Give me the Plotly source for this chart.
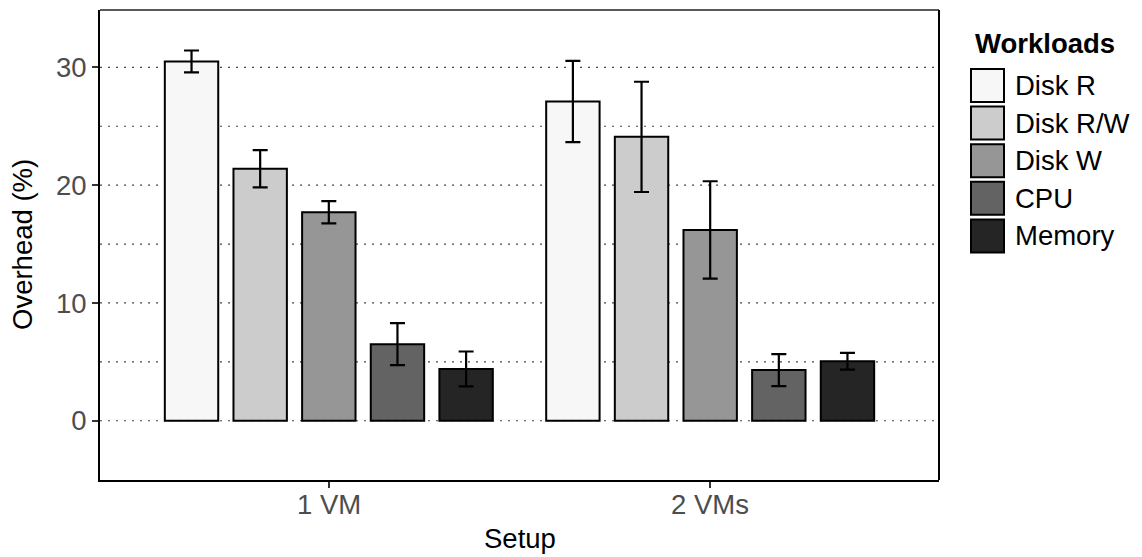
import plotly.graph_objects as go

setups = ["1 VM", "2 VMs"]
workloads = ["Disk R", "Disk R/W", "Disk W", "CPU", "Memory"]
overhead = {
    "Disk R":   [30.5, 27.1],
    "Disk R/W": [21.4, 24.1],
    "Disk W":   [17.7, 16.2],
    "CPU":      [6.5, 4.3],
    "Memory":   [4.4, 5.05],
}
error = {
    "Disk R":   [0.93, 3.45],
    "Disk R/W": [1.58, 4.68],
    "Disk W":   [0.95, 4.13],
    "CPU":      [1.78, 1.36],
    "Memory":   [1.48, 0.71],
}
colors = ["#f7f7f7", "#cccccc", "#969696", "#636363", "#252525"]
setup_pos = [1, 2]

fig = go.Figure()
for w, c in zip(workloads, colors):
    fig.add_trace(go.Bar(
        x=setup_pos, y=overhead[w], name=w,
        marker=dict(color=c, line=dict(color="black", width=2)),
        error_y=dict(type="data", array=error[w], visible=True,
                     color="black", thickness=2.2, width=7.5),
        showlegend=False,
    ))

font = "Liberation Sans, Arial, sans-serif"
FS = 27.5
fig.update_layout(
    width=1142, height=557,
    margin=dict(l=100, r=203, t=10, b=77),
    paper_bgcolor="white", plot_bgcolor="white",
    barmode="group", bargap=0.1, bargroupgap=0.222,
    font=dict(family=font, size=FS, color="black"),
    xaxis=dict(
        range=[0.4, 2.6], tickvals=setup_pos, showticklabels=False,
        showgrid=False, zeroline=False, automargin=False,
        showline=True, linecolor="black", linewidth=2,
        ticks="outside", ticklen=6, tickwidth=2, tickcolor="#333333",
    ),
    yaxis=dict(
        range=[-5.03, 34.87], tickvals=[0, 10, 20, 30],
        showgrid=False, zeroline=False, automargin=False,
        showline=True, linecolor="black", linewidth=2,
        ticks="outside", ticklen=6, tickwidth=2, tickcolor="#333333",
        tickfont=dict(size=FS, color="#4d4d4d", family=font),
    ),
)

pl, pr, pt, pb = 100, 939, 10, 480
def px2x(px):
    return (px - pl) / (pr - pl)
def py2y(py):
    return (pb - py) / (pb - pt)

# x tick labels (placed at the category positions on the x scale)
for xv, lab in zip(setup_pos, setups):
    fig.add_annotation(xref="x", yref="paper", x=xv, y=py2y(504),
                       xanchor="center", yanchor="middle", showarrow=False,
                       text=lab, font=dict(size=FS, color="#4d4d4d", family=font))

# axis titles
fig.add_annotation(xref="paper", yref="paper", x=0.5, y=py2y(538),
                   xanchor="center", yanchor="middle", showarrow=False,
                   text="Setup", font=dict(size=FS, color="black", family=font))
fig.add_annotation(xref="paper", yref="paper", x=px2x(22), y=0.5, textangle=-90,
                   xanchor="center", yanchor="middle", showarrow=False,
                   text="Overhead (%)", font=dict(size=FS, color="black", family=font))

# dotted horizontal grid lines (major and minor)
for v in [0, 5, 10, 15, 20, 25, 30]:
    fig.add_shape(type="line", xref="paper", yref="y", x0=0, x1=1, y0=v, y1=v,
                  line=dict(color="#444444", width=1.2, dash="2px,6px"), layer="below")

# panel border (top / right)
fig.add_shape(type="line", xref="paper", yref="paper", x0=0, x1=1, y0=1, y1=1,
              line=dict(color="#222222", width=1.3))
fig.add_shape(type="line", xref="paper", yref="paper", x0=1, x1=1, y0=0, y1=1,
              line=dict(color="black", width=2))

# custom legend
fig.add_annotation(xref="paper", yref="paper", x=px2x(973), y=py2y(43),
                   xanchor="left", yanchor="middle", showarrow=False,
                   text="<b>Workloads</b>", font=dict(size=FS, color="black", family=font))
top0 = 68
pitch = 37.6
for i, (w, c) in enumerate(zip(workloads, colors)):
    y0 = top0 + i * pitch
    fig.add_shape(type="rect", xref="paper", yref="paper",
                  x0=px2x(971), x1=px2x(1004), y0=py2y(y0 + 34), y1=py2y(y0 + 1),
                  fillcolor=c, line=dict(color="black", width=2))
    fig.add_annotation(xref="paper", yref="paper", x=px2x(1013), y=py2y(y0 + 17.5),
                       xanchor="left", yanchor="middle", showarrow=False,
                       text=w, font=dict(size=FS, color="black", family=font))

fig.write_html("out.html")
